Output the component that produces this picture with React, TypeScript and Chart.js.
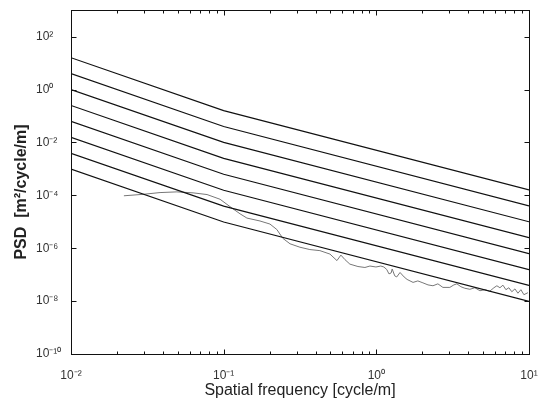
import React, { useEffect, useRef } from 'react';
import { Chart, registerables } from 'chart.js';

Chart.register(...registerables);

// Road roughness class lines: PSD at spatial frequencies 0.01, 0.1, 10 cycle/m
const isoFreq = [0.01, 0.1, 10];
const classH = [16, 0.16, 1.6e-4];
const classG = [4, 0.04, 4e-5];
const classF = [1, 0.01, 1e-5];
const classE = [0.25, 2.5e-3, 2.5e-6];
const classD = [0.0625, 6.25e-4, 6.25e-7];
const classC = [0.0156, 1.56e-4, 1.56e-7];
const classB = [0.0039, 3.9e-5, 3.9e-8];
const classA = [0.00098, 9.8e-6, 9.8e-9];
const classLines = [classH, classG, classF, classE, classD, classC, classB, classA];

// Measured road profile PSD
const measuredFreq = [
  0.0222, 0.0296, 0.0383, 0.0494, 0.063, 0.0778, 0.0947, 0.115, 0.128, 0.142,
  0.173, 0.201, 0.223, 0.244, 0.272, 0.316, 0.367, 0.427, 0.497, 0.552,
  0.586, 0.623, 0.671, 0.758, 0.842, 0.908, 0.994, 1.07, 1.12, 1.17,
  1.21, 1.25, 1.27, 1.32, 1.36, 1.43, 1.52, 1.59, 1.74, 1.87,
  2.02, 2.18, 2.35, 2.53, 2.73, 3.03, 3.22, 3.37, 3.58, 3.8,
  4.1, 4.42, 4.77, 5.14, 5.54, 5.89, 6.16, 6.45, 6.75, 7.06,
  7.38, 7.72, 8.09, 8.46, 8.85, 9.26, 9.84,
];
const measuredPsd = [
  9.6e-5, 1.09e-4, 1.27e-4, 1.35e-4, 1.24e-4, 1.07e-4, 7.1e-5, 3.1e-5, 2.0e-5, 1.38e-5,
  1.07e-5, 8.2e-6, 5.1e-6, 2.37e-6, 1.47e-6, 1.09e-6, 8.9e-7, 8.1e-7, 6.0e-7, 3.4e-7,
  5.5e-7, 3.7e-7, 2.5e-7, 2.03e-7, 1.87e-7, 2.12e-7, 1.95e-7, 2.12e-7, 1.95e-7, 1.57e-7,
  1.07e-7, 1.16e-7, 1.64e-7, 9.0e-8, 8.2e-8, 1.21e-7, 8.2e-8, 6.6e-8, 5.1e-8, 5.8e-8,
  4.9e-8, 4.1e-8, 3.8e-8, 4.5e-8, 3.3e-8, 3.3e-8, 4.1e-8, 4.5e-8, 3.5e-8, 3.06e-8,
  2.8e-8, 3.2e-8, 2.47e-8, 2.7e-8, 2.37e-8, 3.2e-8, 3.8e-8, 3.2e-8, 4.0e-8, 2.7e-8,
  3.2e-8, 2.26e-8, 2.9e-8, 1.99e-8, 2.7e-8, 1.75e-8, 2.08e-8,
];

const yTickValues = [1e-10, 1e-8, 1e-6, 1e-4, 1e-2, 1, 1e2];
const xMajorValues = [0.01, 0.1, 1, 10];
const xMinorFactors = [2, 3, 4, 5, 6, 7, 8, 9];

const SUP: Record<string, string> = {
  '-': '\u207B', '0': '\u2070', '1': '\u00B9', '2': '\u00B2', '3': '\u00B3',
  '4': '\u2074', '5': '\u2075', '6': '\u2076', '7': '\u2077', '8': '\u2078', '9': '\u2079',
};

function isMajor(v: number) {
  const l = Math.log10(v);
  return Math.abs(l - Math.round(l)) < 1e-6;
}
function powLabel(v: number) {
  if (!isMajor(v)) return '';
  const e = String(Math.round(Math.log10(v)));
  return '10' + e.split('').map((c) => SUP[c] || c).join('');
}

const FONT = "'Liberation Sans', Arial, sans-serif";

const framePlugin = {
  id: 'frame',
  afterDatasetsDraw(chart: any) {
    const { ctx, chartArea } = chart;
    const { left, right, top, bottom } = chartArea;
    const xs = chart.scales.x;
    const ys = chart.scales.y;
    ctx.save();
    ctx.strokeStyle = '#111';
    ctx.lineWidth = 1;
    const L = Math.round(left) + 0.5;
    const R = Math.round(right) + 0.5;
    const T = Math.round(top) + 0.5;
    const B = Math.round(bottom) + 0.5;
    ctx.strokeRect(L, T, R - L, B - T);
    ctx.beginPath();
    xs.ticks.forEach((t: any) => {
      const px = Math.round(xs.getPixelForValue(t.value)) + 0.5;
      const len = isMajor(t.value) ? 5 : 3;
      ctx.moveTo(px, B);
      ctx.lineTo(px, B - len);
      ctx.moveTo(px, T);
      ctx.lineTo(px, T + len);
    });
    ys.ticks.forEach((t: any) => {
      const py = Math.round(ys.getPixelForValue(t.value)) + 0.5;
      ctx.moveTo(L, py);
      ctx.lineTo(L + 5, py);
      ctx.moveTo(R, py);
      ctx.lineTo(R - 5, py);
    });
    ctx.stroke();
    ctx.translate(22, 192);
    ctx.rotate(-Math.PI / 2);
    ctx.font = "bold 16px 'Liberation Sans', Arial, sans-serif";
    ctx.fillStyle = '#222';
    ctx.textAlign = 'center';
    ctx.textBaseline = 'middle';
    ctx.fillText('PSD  [m\u00B2/cycle/m]', 0, 0);
    ctx.restore();
  },
};

export default function App() {
  const ref = useRef<HTMLCanvasElement>(null);

  useEffect(() => {
    if (!ref.current) return;
    const datasets: any[] = classLines.map((vals) => ({
      data: isoFreq.map((f, i) => ({ x: f, y: vals[i] })),
      borderColor: '#111',
      borderWidth: 1.2,
      pointRadius: 0,
      tension: 0,
    }));
    datasets.push({
      data: measuredFreq.map((f, i) => ({ x: f, y: measuredPsd[i] })),
      borderColor: '#777',
      borderWidth: 1,
      pointRadius: 0,
      tension: 0,
    });

    const xTicks: number[] = [];
    xMajorValues.forEach((m, i) => {
      xTicks.push(m);
      if (i < xMajorValues.length - 1) xMinorFactors.forEach((f) => xTicks.push(m * f));
    });

    const chart = new Chart(ref.current, {
      type: 'line',
      data: { datasets },
      options: {
        animation: false,
        responsive: true,
        maintainAspectRatio: false,
        devicePixelRatio: 1,
        layout: { padding: { left: 36, right: 21, top: 7, bottom: 0 } },
        plugins: { legend: { display: false }, tooltip: { enabled: false } },
        scales: {
          x: {
            type: 'logarithmic',
            min: 0.01,
            max: 10,
            grid: { display: false },
            border: { display: false },
            afterBuildTicks: (s: any) => {
              s.ticks = xTicks.map((v) => ({ value: v }));
            },
            afterFit: (s: any) => {
              s.height = 49;
            },
            ticks: {
              autoSkip: false,
              maxRotation: 0,
              padding: 6,
              color: '#333',
              font: { family: FONT, size: 12 },
              callback: (v: any) => powLabel(Number(v)),
            },
            title: {
              display: true,
              text: 'Spatial frequency [cycle/m]',
              color: '#222',
              font: { family: FONT, size: 16 },
              padding: { top: 0, bottom: 3 },
            },
          },
          y: {
            type: 'logarithmic',
            min: 1e-10,
            max: 1e3,
            grid: { display: false },
            border: { display: false },
            afterBuildTicks: (s: any) => {
              s.ticks = yTickValues.map((v) => ({ value: v }));
            },
            afterFit: (s: any) => {
              s.width = 35;
            },
            ticks: {
              autoSkip: false,
              crossAlign: 'far',
              color: '#333',
              font: { family: FONT, size: 12 },
              callback: (v: any) => powLabel(Number(v)),
            },
          },
        },
      },
      plugins: [framePlugin],
    } as any);
    return () => chart.destroy();
  }, []);

  return (
    <div style={{ position: 'fixed', left: 0, top: 0, width: 550, height: 403, background: '#fff' }}>
      <canvas ref={ref} />
    </div>
  );
}
